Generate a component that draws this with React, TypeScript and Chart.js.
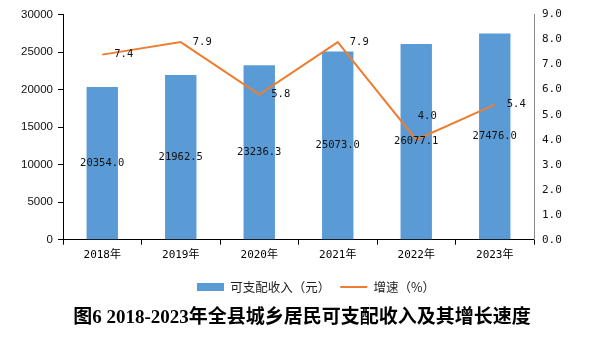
import React, { useEffect, useRef } from "react";
import { Chart, registerables } from "chart.js";

Chart.register(...registerables);

const categories = ["2018年", "2019年", "2020年", "2021年", "2022年", "2023年"];
const incomeValues = [20354.0, 21962.5, 23236.3, 25073.0, 26077.1, 27476.0];
const growthValues = [7.4, 7.9, 5.8, 7.9, 4.0, 5.4];
const incomeLabel = "可支配收入（元）";
const growthLabel = "增速（%）";
const titleText = "图6 2018-2023年全县城乡居民可支配收入及其增长速度";
// label placement for the growth series (style only)
const growthLabelPlacement = ["right", "right", "right", "right", "above", "right"];

const BAR_COLOR = "#5B9BD5";
const LINE_COLOR = "#ED7D31";
const MONO = '"DejaVu Sans Mono", "Noto Sans CJK SC", monospace';

const valueLabels = {
  id: "valueLabels",
  afterLayout(chart: any) {
    const lg = chart.legend;
    if (lg) {
      lg.left += 21;
      lg.right += 21;
    }
    const tt = chart.titleBlock;
    if (tt) {
      tt.left += 7;
      tt.right += 7;
    }
  },
  afterDatasetsDraw(chart: any) {
    const ctx = chart.ctx;
    ctx.save();
    ctx.font = "10.5px " + MONO;
    ctx.fillStyle = "#111";
    ctx.textBaseline = "middle";
    const barMeta = chart.getDatasetMeta(0);
    barMeta.data.forEach((bar: any, i: number) => {
      const p = bar.getProps(["x", "y", "base"], true);
      ctx.textAlign = "center";
      ctx.fillText(incomeValues[i].toFixed(1), p.x, (p.y + p.base) / 2);
    });
    const lineMeta = chart.getDatasetMeta(1);
    lineMeta.data.forEach((pt: any, i: number) => {
      const p = pt.getProps(["x", "y"], true);
      const txt = growthValues[i].toFixed(1);
      if (growthLabelPlacement[i] === "above") {
        ctx.textAlign = "center";
        ctx.fillText(txt, p.x + 11, p.y - 23);
      } else {
        ctx.textAlign = "left";
        ctx.fillText(txt, p.x + 12, p.y);
      }
    });
    ctx.restore();
  },
};

export default function App() {
  const ref = useRef<HTMLCanvasElement | null>(null);
  useEffect(() => {
    if (!ref.current) return;
    const chart = new Chart(ref.current, {
      type: "bar",
      data: {
        labels: categories,
        datasets: [
          {
            type: "bar",
            label: incomeLabel,
            data: incomeValues,
            backgroundColor: BAR_COLOR,
            borderWidth: 0,
            yAxisID: "y",
            categoryPercentage: 1,
            barPercentage: 0.4,
            order: 1,
          } as any,
          {
            type: "line",
            label: growthLabel,
            data: growthValues,
            borderColor: LINE_COLOR,
            backgroundColor: LINE_COLOR,
            borderWidth: 2,
            pointRadius: 0,
            tension: 0,
            yAxisID: "y1",
            order: 0,
          } as any,
        ],
      },
      options: {
        animation: false,
        responsive: true,
        maintainAspectRatio: false,
        layout: { padding: { top: 12, left: 0, right: 0, bottom: 0 } },
        scales: {
          x: {
            offset: true,
            grid: {
              display: true,
              offset: true,
              drawOnChartArea: false,
              drawTicks: true,
              tickLength: 5,
              color: "#000",
            },
            border: { display: true, color: "#000", width: 1 },
            ticks: {
              color: "#000",
              font: { family: MONO, size: 11 },
              padding: 4,
            },
            afterFit: (s: any) => {
              s.height = 31;
            },
          },
          y: {
            position: "left",
            min: 0,
            max: 30000,
            grid: {
              display: true,
              drawOnChartArea: false,
              drawTicks: true,
              tickLength: 5,
              color: "#000",
            },
            border: { display: true, color: "#000", width: 1 },
            ticks: {
              stepSize: 5000,
              color: "#111",
              font: { family: '"Liberation Sans", Arial, sans-serif', size: 11.5 },
              padding: 5,
              callback: (v: any) => String(v),
            },
            afterFit: (s: any) => {
              s.width = 63;
            },
          },
          y1: {
            position: "right",
            min: 0,
            max: 9,
            grid: { display: false, drawOnChartArea: false, drawTicks: false },
            border: { display: true, color: "#888", width: 1 },
            ticks: {
              stepSize: 1,
              color: "#111",
              font: { family: MONO, size: 11 },
              padding: 8,
              callback: (v: any) => Number(v).toFixed(1),
            },
            afterFit: (s: any) => {
              s.width = 56;
            },
          },
        },
        plugins: {
          tooltip: { enabled: false },
          legend: {
            position: "bottom",
            labels: {
              usePointStyle: true,
              pointStyleWidth: 27,
              boxHeight: 8,
              padding: 10,
              color: "#222",
              font: { family: '"Noto Sans CJK SC", sans-serif', size: 12.5 },
              sort: (a: any, b: any) => a.datasetIndex - b.datasetIndex,
              generateLabels: (chart: any) => {
                const items = (Chart.defaults.plugins.legend.labels as any).generateLabels(chart);
                return items.map((it: any) => {
                  if (it.datasetIndex === 0) {
                    it.pointStyle = "rect";
                    it.lineWidth = 0;
                    it.strokeStyle = BAR_COLOR;
                  } else {
                    it.pointStyle = "line";
                    it.lineWidth = 2;
                    it.strokeStyle = LINE_COLOR;
                  }
                  return it;
                });
              },
            },
          },
          title: {
            display: true,
            position: "bottom",
            text: titleText,
            color: "#000",
            font: {
              family: '"Liberation Serif", "Noto Sans CJK SC", serif',
              size: 19,
              weight: "bold",
            },
            padding: { top: 3, bottom: 33 },
          },
        },
      },
      plugins: [valueLabels],
    });
    return () => chart.destroy();
  }, []);
  return (
    <div style={{ position: "absolute", left: 0, top: 0, width: 590, height: 362, background: "#fff" }}>
      <canvas ref={ref} />
    </div>
  );
}
